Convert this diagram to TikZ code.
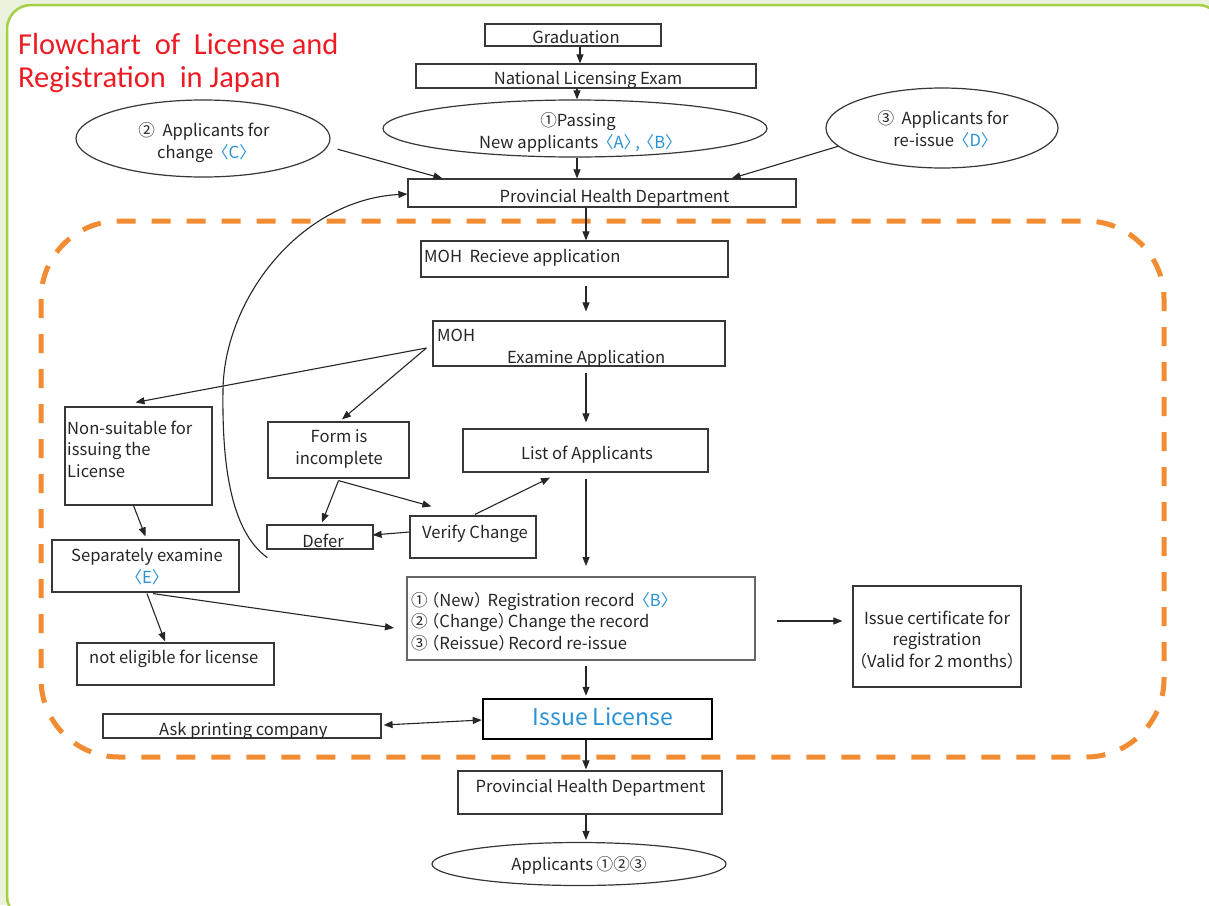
\documentclass[tikz,border=0pt]{standalone}
\usepackage{fontspec}
\setmainfont{Noto Sans CJK JP}
\newfontfamily\titlefont{Carlito}
\usetikzlibrary{arrows.meta,shapes.geometric,calc}
\definecolor{bgreen}{RGB}{235,242,222}
\definecolor{fgreen}{RGB}{165,208,70}
\definecolor{tred}{RGB}{237,28,36}
\definecolor{lblue}{RGB}{41,146,214}
\definecolor{dorange}{RGB}{242,140,50}
\definecolor{edge}{RGB}{55,55,55}
\newcommand{\bluet}[1]{{\color{lblue}#1}}
\newcommand{\ab}[1]{\kern-0.3em〈#1〉\kern-0.3em}
\newcommand{\pp}[1]{\kern-0.3em（#1）\kern-0.4em}
\begin{document}
\begin{tikzpicture}[x=1pt,y=-1pt,
  box/.style={draw=edge, line width=1.2pt, rectangle, inner sep=0pt},
  oval/.style={draw=edge, line width=1.2pt, ellipse, inner sep=0pt},
  txt/.style={inner sep=0pt, font=\fontsize{16.6}{21.5}\selectfont, text=black!85},
  arr/.style={draw=black!85, line width=1.1pt, -{Triangle[length=9pt,width=7pt]}},
]
\clip (0,0) rectangle (1209,905);
\fill[bgreen] (0,0) rectangle (1209,905);
\draw[fgreen, line width=2.5pt, fill=white, rounded corners=24pt] (7,5) rectangle (1222,920);
\draw[dorange, line width=5pt, dash pattern=on 19pt off 16pt, rounded corners=78pt] (41,221) rectangle (1164,757);
\coordinate (spine) at (586,0);
\coordinate (bend) at (223,390);

% title
\node[anchor=base west, inner sep=0pt, align=left, text=tred, font=\titlefont\fontsize{30.5}{33}\selectfont] (title) at (18,87) {Flowchart\ \ of\ \ License and\\Registration\ \ in Japan};

% boxes
\node[box, minimum width=176pt, minimum height=22pt] (grad) at (573,35) {};
\node[box, minimum width=340pt, minimum height=24pt] (nle) at (586,76) {};
\node[oval, minimum width=384pt, minimum height=57pt] (pass) at (575,128.5) {};
\node[oval, minimum width=254pt, minimum height=77pt] (chg) at (203,138.5) {};
\node[oval, minimum width=232pt, minimum height=80pt] (reis) at (942,128) {};
\node[box, minimum width=388pt, minimum height=28pt] (phd1) at (602,193) {};
\node[box, minimum width=307pt, minimum height=36pt] (recv) at (574.5,259) {};
\node[box, minimum width=292pt, minimum height=45pt] (exam) at (579,343.5) {};
\node[box, minimum width=147pt, minimum height=98pt] (nons) at (138.5,456) {};
\node[box, minimum width=141pt, minimum height=56pt] (form) at (338.5,450) {};
\node[box, minimum width=245pt, minimum height=43pt] (list) at (585.5,450.5) {};
\node[box, minimum width=106pt, minimum height=24pt] (defer) at (320,537) {};
\node[box, minimum width=126pt, minimum height=42pt] (verify) at (473,537) {};
\node[box, minimum width=187pt, minimum height=52pt] (sep) at (145.5,566) {};
\node[box, draw=black!60, line width=2pt, minimum width=348pt, minimum height=83pt] (reg) at (581,618.5) {};
\node[box, minimum width=168pt, minimum height=101pt] (cert) at (937,636.5) {};
\node[box, minimum width=197pt, minimum height=42pt] (noel) at (175.5,664) {};
\node[box, minimum width=278pt, minimum height=24pt] (ask) at (242,726) {};
\node[box, draw=black, line width=2.5pt, minimum width=229pt, minimum height=40pt] (issue) at (597.5,719) {};
\node[box, minimum width=264pt, minimum height=43pt] (phd2) at (590,792.5) {};
\node[oval, minimum width=294pt, minimum height=43pt] (appl) at (579,864) {};

% texts (multi-line nodes: base = last line)
\node[txt, anchor=base] (grad-t) at (576,43) {Graduation};
\node[txt, anchor=base] (nle-t) at (588,84) {National Licensing Exam};
\node[txt, anchor=base, align=center] (pass-t) at (578,148) {①Passing\\New applicants \bluet{\ab{A},\,\ab{B}}};
\node[txt, anchor=base, align=center] (chg-t) at (204,158) {②\ \ Applicants for\\change \bluet{\ab{C}}};
\node[txt, anchor=base, align=center] (reis-t) at (943,146) {③\ \ Applicants for\\re-issue \bluet{\ab{D}}};
\node[txt, anchor=base] (phd1-t) at (614.5,202) {Provincial Health Department};
\node[txt, anchor=base west] (recv-t) at (424,262) {MOH\ \ Recieve application};
\node[txt, anchor=base west, align=left] (exam-t) at (437,363) {MOH\\\hspace*{70pt}Examine Application};
\node[txt, anchor=base west, align=left] (nons-t) at (67,477) {Non-suitable for\\issuing the\\License};
\node[txt, anchor=base, align=center] (form-t) at (339,464) {Form is\\incomplete};
\node[txt, anchor=base] (list-t) at (587,459) {List of Applicants};
\node[txt, anchor=base] (defer-t) at (323,547) {Defer};
\node[txt, anchor=base west] (verify-t) at (422,538) {Verify Change};
\node[txt, anchor=base, align=center] (sep-t) at (147,583) {Separately examine\\\bluet{\ab{E}}};
\node[txt, anchor=base west, align=left] (reg-t) at (411,649) {①\pp{New}\ Registration record \bluet{\ab{B}}\\②\pp{Change}Change the record\\③\pp{Reissue}Record re-issue};
\node[txt, anchor=base, align=center] (cert-t) at (937,667) {Issue certificate for\\registration\\（Valid for 2 months）};
\node[txt, anchor=base west] (noel-t) at (89,663) {not eligible for license};
\node[txt, anchor=base west] (ask-t) at (159,735) {Ask printing company};
\node[txt, anchor=base, font=\fontsize{23}{26}\selectfont, text=lblue] (issue-t) at (603,725) {Issue License};
\node[txt, anchor=base] (phd2-t) at (590.5,792) {Provincial Health Department};
\node[txt, anchor=base] (appl-t) at (579,870) {Applicants ①②③};

% connectors
\draw[arr] ([xshift=7pt]grad.south) -- ([xshift=7pt]grad.south |- nle.north);
\draw[arr] ([xshift=-9pt]nle.south) -- ([xshift=-9pt]nle.south |- pass.north);
\draw[arr] ([xshift=2pt]pass.south) -- ([xshift=2pt]pass.south |- phd1.north);
\draw[arr] ([xshift=12pt]chg.-5) -- ([xshift=35pt]phd1.north west);
\draw[arr] (reis.190) -- ([xshift=-65pt]phd1.north east);
\draw[arr] (phd1.south -| spine) -- (recv.north -| spine);
\draw[arr, shorten <=8pt, shorten >=9pt] (recv.south -| spine) -- (exam.north -| spine);
\draw[arr, shorten <=6pt, shorten >=6pt] (exam.south -| spine) -- (list.north -| spine);
\draw[arr, shorten <=6pt, shorten >=10pt] (list.south -| spine) -- (reg.north -| spine);
\draw[arr, shorten <=5pt, shorten >=2pt] (reg.south -| spine) -- (issue.north -| spine);
\draw[arr, shorten >=1pt] (issue.south -| spine) -- (phd2.north -| spine);
\draw[arr, shorten >=2pt] (phd2.south -| spine) -- (appl.north -| spine);
\draw[arr] ([shift={(-6,4.5)}]exam.west) -- ([shift={(-3,-4)}]nons.north);
\draw[arr] ([shift={(-6,4.5)}]exam.west) -- ([shift={(3.5,-2)}]form.north);
\draw[arr] ([shift={(0,2)}]form.south) -- ([shift={(2,-2)}]defer.north);
\draw[arr] ([shift={(0,2)}]form.south) -- ([shift={(22,-9)}]verify.north west);
\draw[arr] ([shift={(0,-5)}]verify.west) -- ([shift={(-1,-2)}]defer.east);
\draw[arr] ([shift={(2,-1)}]verify.north) -- ([shift={(-35.5,5)}]list.south);
\draw[arr] ([xshift=-5pt]nons.south) -- ([shift={(0,-3)}]sep.north);
\draw[arr] ([shift={(1.5,1)}]sep.south) -- ([shift={(-10.5,-1)}]noel.north);
\draw[arr] ([shift={(7.5,1)}]sep.south) -- ([shift={(-12,9.5)}]reg.west);
\draw[arr, {Triangle[length=9pt,width=7pt]}-{Triangle[length=9pt,width=7pt]}] ([shift={(2,-1)}]ask.east) -- ([shift={(0,1)}]issue.west);
\draw[arr] ([shift={(21,2.5)}]reg.east) -- ([shift={(-10,-15.5)}]cert.west);
\draw[arr] ([shift={(1,8)}]defer.south west) .. controls +(-38,-27) and +(-1,70) .. (bend) .. controls +(1,-90) and +(-108,6) .. ([shift={(0,1)}]phd1.west);
\end{tikzpicture}
\end{document}
